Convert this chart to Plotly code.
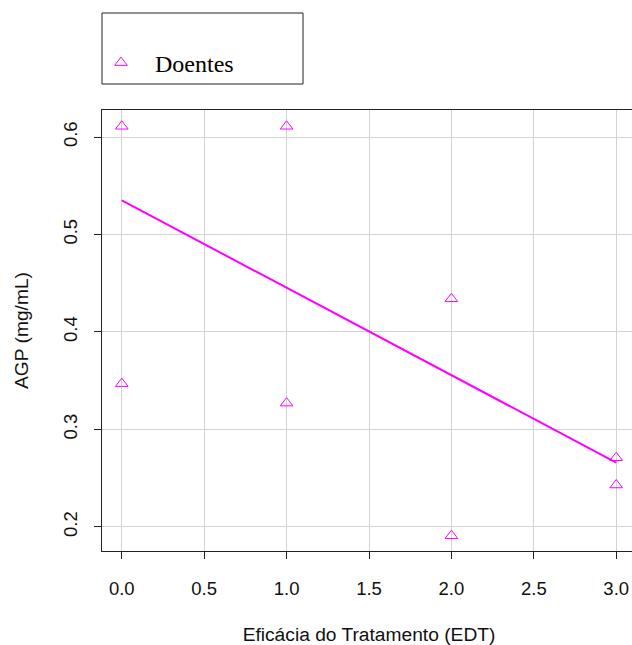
import plotly.graph_objects as go

# Data
edt = [0, 0, 1, 1, 2, 2, 3, 3]
agp = [0.611, 0.347, 0.611, 0.327, 0.434, 0.191, 0.271, 0.243]
fit_x = [0, 3]
fit_y = [0.535, 0.266]
x_ticks = [0, 0.5, 1, 1.5, 2, 2.5, 3]
x_ticklabels = ["0.0", "0.5", "1.0", "1.5", "2.0", "2.5", "3.0"]
y_ticks = [0.2, 0.3, 0.4, 0.5, 0.6]
y_ticklabels = ["0.2", "0.3", "0.4", "0.5", "0.6"]

L, T, B = 102, 110, 94
plot_w = 534
plot_h = 441
W = L + plot_w          # plot box runs slightly past the window edge, as in the reference
H = T + plot_h + B

MAG = "#FF00FF"
INK = "#222222"

fig = go.Figure()
fig.add_trace(go.Scatter(
    x=fit_x, y=fit_y, mode="lines",
    line=dict(color=MAG, width=2), showlegend=False, hoverinfo="skip"))
fig.add_trace(go.Scatter(
    x=edt, y=agp, mode="markers", name="Doentes",
    marker=dict(symbol="triangle-up-open", size=11, color=MAG,
                line=dict(color=MAG, width=1))))

tick_font = dict(family="Liberation Sans, Arial, sans-serif", size=18.5, color="#111111")
title_font = dict(family="Liberation Sans, Arial, sans-serif", size=19.2, color="#111111")

fig.update_layout(
    width=W, height=H,
    margin=dict(l=L, r=0, t=T, b=B, autoexpand=False),
    paper_bgcolor="white", plot_bgcolor="white",
    font=tick_font,
    xaxis=dict(
        range=[-0.12, 3.12], tickmode="array", tickvals=x_ticks,
        ticktext=x_ticklabels, showgrid=True, gridcolor="#D3D3D3", gridwidth=1,
        zeroline=False, showline=True, mirror=True, linecolor=INK, linewidth=1,
        ticks="outside", ticklen=7, tickcolor=INK, tickfont=tick_font,
        ticklabelstandoff=14,
        title=dict(text="Eficácia do Tratamento (EDT)", font=title_font, standoff=29),
        automargin=False),
    yaxis=dict(
        range=[0.1753, 0.6277], tickmode="array", tickvals=y_ticks,
        ticktext=y_ticklabels, showgrid=True, gridcolor="#D3D3D3", gridwidth=1,
        zeroline=False, showline=True, mirror=True, linecolor=INK, linewidth=1,
        ticks="outside", ticklen=7, tickcolor=INK, tickfont=tick_font,
        tickangle=-90, ticklabelstandoff=10,
        title=dict(text="AGP (mg/mL)", font=title_font, standoff=25),
        automargin=False),
    legend=dict(
        x=-15 / plot_w, xanchor="left", y=1 + 47 / plot_h, yanchor="middle",
        bgcolor="rgba(0,0,0,0)", borderwidth=0, itemwidth=58,
        font=dict(family="Liberation Serif, Times New Roman, serif", size=24, color="black")),
    shapes=[
        # legend box
        dict(type="rect", xref="paper", yref="paper",
             x0=0.0, x1=201 / plot_w,
             y0=1 + (T - 84) / plot_h, y1=1 + (T - 13) / plot_h,
             line=dict(color=INK, width=1), fillcolor="rgba(0,0,0,0)"),
    ],
)

post = ("document.body.style.margin='0';"
        "document.body.style.overflow='hidden';"
        "document.documentElement.style.overflow='hidden';")
fig.write_html("out.html", post_script=post, config={"displayModeBar": False})
